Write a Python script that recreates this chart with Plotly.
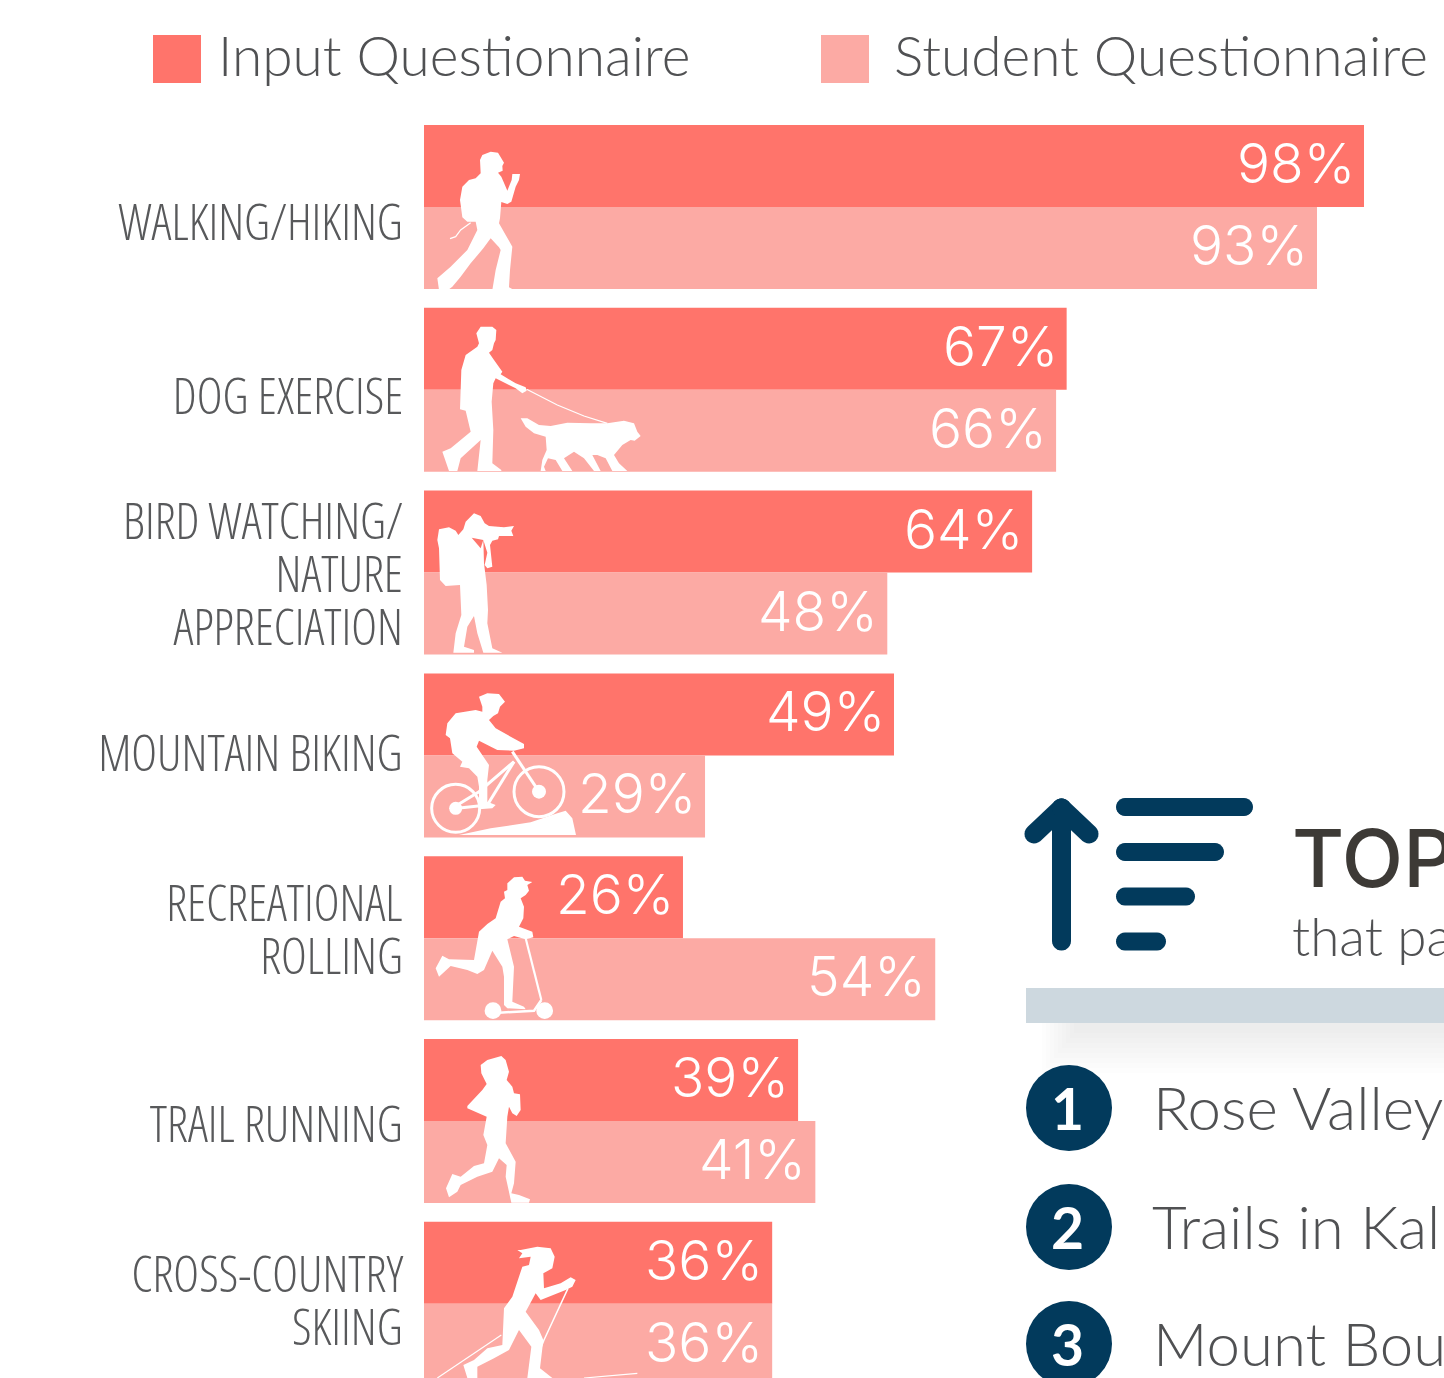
import math
import plotly.graph_objects as go

# ---------- data ----------
categories = ["WALKING/HIKING", "DOG EXERCISE", "BIRD WATCHING/ NATURE APPRECIATION",
              "MOUNTAIN BIKING", "RECREATIONAL ROLLING", "TRAIL RUNNING", "CROSS-COUNTRY SKIING"]
input_values = [98, 67, 63.4, 49, 27, 39, 36.3]
student_values = [93.1, 65.9, 48.3, 29.3, 53.3, 40.8, 36.3]
input_labels = ["98%", "67%", "64%", "49%", "26%", "39%", "36%"]
student_labels = ["93%", "66%", "48%", "29%", "54%", "41%", "36%"]
label_lines = [["WALKING/HIKING"], ["DOG EXERCISE"], ["BIRD WATCHING/", "NATURE", "APPRECIATION"],
               ["MOUNTAIN BIKING"], ["RECREATIONAL", "ROLLING"], ["TRAIL RUNNING"], ["CROSS-COUNTRY", "SKIING"]]
series_names = ["Input Questionnaire", "Student Questionnaire"]
top_list = ["Rose Valley", "Trails in Kal", "Mount Bou"]

# ---------- layout constants ----------
W, H = 1444, 1378
C_IN, C_ST = "#ff746b", "#fcaaa4"
NAVY = "#023a5c"
GREY = "#58595b"
LATO_GREY = "#505153"
LABEL_TOP = [221, 395, 520, 752, 902, 1123, 1273]
LINE_GAP = 53
PX_PER_UNIT = 940 / 98
BAND = 182.8
FIRST = 207


def fx(x):
    return x / W


def fy(y):
    return 1 - y / H


shapes = []
ann = []


def poly(points, fill="white"):
    d = "M" + " L".join(f"{fx(x):.5f} {fy(y):.5f}" for x, y in points) + " Z"
    shapes.append(dict(type="path", xref="paper", yref="paper", path=d, fillcolor=fill,
                       line=dict(width=0), layer="above"))


def icon(points, ox, oy, fill="white", sy=3.0):
    poly([(ox + x / 3, oy + y / sy) for x, y in points], fill)


def capsule(a, b, w, fill=NAVY):
    (x0, y0), (x1, y1) = a, b
    ang = math.atan2(y1 - y0, x1 - x0)
    r = w / 2
    pts = []
    for i in range(13):
        t = ang + math.pi / 2 + math.pi * i / 12
        pts.append((x0 + r * math.cos(t), y0 + r * math.sin(t)))
    for i in range(13):
        t = ang - math.pi / 2 + math.pi * i / 12
        pts.append((x1 + r * math.cos(t), y1 + r * math.sin(t)))
    poly(pts, fill)


def iline(points, ox, oy, w, color="white"):
    d = "M" + " L".join(f"{fx(ox + x / 3):.5f} {fy(oy + y / 3):.5f}" for x, y in points)
    shapes.append(dict(type="path", xref="paper", yref="paper", path=d,
                       line=dict(color=color, width=w), layer="above"))


def circle(cx, cy, r, fill=None, line=None, lw=0):
    shapes.append(dict(type="circle", xref="paper", yref="paper", layer="above",
                       x0=fx(cx - r), x1=fx(cx + r), y0=fy(cy + r), y1=fy(cy - r),
                       fillcolor=fill if fill else "rgba(0,0,0,0)",
                       line=dict(color=line if line else "rgba(0,0,0,0)", width=lw)))


def text(s, x, y, size, family, color=LATO_GREY, weight=None, anchor="left"):
    ann.append(dict(text=s, x=fx(x), y=fy(y), xref="paper", yref="paper", xanchor=anchor,
                    yanchor="middle", showarrow=False, align=anchor,
                    font=dict(size=size, family=family, color=color, weight=weight)))


# ---------- silhouettes ----------
OX1, OY1 = 424, 130
icon([(200,65),(222,68),(232,85),(240,98),(235,108),(236,122),(222,128),(232,140),(245,170),(250,182),(263,150),(265,132),(288,132),(285,150),(275,170),(262,215),(250,222),(232,216),(228,265),(225,280),(245,315),(265,350),(258,420),(255,472),(270,480),(205,480),(215,420),(230,360),(225,352),(200,325),(178,355),(140,400),(110,440),(85,470),(72,480),(45,480),(40,445),(80,410),(130,360),(160,300),(155,275),(130,275),(115,262),(108,210),(115,170),(135,150),(155,145),(170,130),(168,90),(175,75)], OX1, OY1)
iline([(140,278),(110,300),(95,320),(78,326)], OX1, OY1, 1.2)
icon([(170,590),(205,590),(217,600),(215,630),(210,640),(205,660),(195,668),(210,690),(235,725),(230,733),(275,760),(305,772),(308,782),(295,790),(275,775),(215,745),(208,760),(203,815),(208,900),(205,1000),(232,1020),(232,1023),(160,1023),(170,930),(110,985),(100,1023),(75,1023),(55,965),(80,955),(140,905),(125,842),(108,838),(112,720),(125,675),(160,650),(165,640),(157,610)], OX1, OY1)
iline([(308,778),(400,825),(480,858),(550,880)], OX1, OY1, 1.2)
icon([(290,865),(310,865),(345,885),(380,888),(430,878),(500,880),(550,880),(600,872),(630,880),(640,905),(650,918),(632,932),(620,930),(595,945),(570,975),(585,1000),(610,1023),(565,1023),(545,985),(520,975),(505,975),(530,1023),(510,1023),(480,985),(450,965),(420,985),(445,1023),(415,1023),(395,990),(372,985),(360,1010),(365,1023),(350,1023),(355,990),(368,960),(365,920),(330,910),(305,890)], OX1, OY1)

OX2, OY2 = 424, 490
icon([(150,70),(170,78),(182,100),(195,108),(240,112),(270,108),(262,122),(268,138),(225,138),(222,148),(205,152),(198,165),(205,230),(190,235),(182,225),(190,188),(178,150),(180,220),(188,285),(192,360),(190,400),(205,475),(235,488),(178,488),(160,430),(150,378),(130,410),(120,470),(150,480),(150,488),(88,488),(95,430),(112,375),(108,285),(65,288),(48,270),(45,175),(40,150),(45,118),(75,112),(95,122),(103,135),(118,118),(125,95)], OX2, OY2)
icon([(143,143),(178,150),(170,175)], OX2, OY2, C_IN)
icon([(165,620),(190,610),(225,612),(243,635),(228,650),(222,670),(208,678),(195,690),(215,715),(260,740),(300,762),(300,775),(270,782),(220,780),(165,752),(158,770),(195,825),(190,870),(190,935),(215,945),(205,955),(165,958),(165,890),(160,860),(135,835),(108,830),(115,815),(85,790),(78,745),(65,735),(70,700),(95,670),(155,660),(175,665),(175,650)], OX2, OY2)
iline([(100,945),(165,905),(270,815)], OX2, OY2, 3)
iline([(270,815),(190,945)], OX2, OY2, 3)
iline([(100,955),(190,945)], OX2, OY2, 3)
iline([(265,785),(345,905)], OX2, OY2, 3)
circle(424 + 95 / 3, 490 + 955 / 3, 24, line="white", lw=3)
circle(424 + 345 / 3, 490 + 905 / 3, 25, line="white", lw=3)
circle(424 + 95 / 3, 490 + 955 / 3, 6.5, fill="white")
circle(424 + 345 / 3, 490 + 905 / 3, 7, fill="white")
icon([(105,1035),(200,1015),(320,997),(400,970),(425,962),(445,985),(456,1035)], OX2, OY2)

OX3, OY3 = 424, 860
icon([(250,70),(270,52),(295,50),(303,62),(325,66),(310,75),(315,92),(305,105),(290,115),(300,140),(298,175),(285,200),(325,215),(328,232),(305,238),(270,228),(250,238),(270,320),(265,425),(300,440),(305,448),(250,445),(240,435),(240,350),(235,320),(205,272),(180,330),(160,342),(130,330),(80,318),(45,350),(35,325),(55,287),(75,298),(150,300),(165,215),(190,192),(215,175),(230,125),(243,115),(240,95),(250,90)], OX3, OY3)
iline([(305,235),(352,420)], OX3, OY3, 2.2)
iline([(352,420),(330,452),(225,458)], OX3, OY3, 2.5)
circle(424 + 207 / 3, 860 + 452 / 3, 8.4, fill="white")
circle(424 + 362 / 3, 860 + 452 / 3, 8.4, fill="white")
icon([(170,615),(190,600),(232,588),(245,600),(255,635),(248,660),(265,680),(270,700),(288,703),(290,750),(278,768),(265,760),(255,740),(250,770),(245,850),(275,905),(270,970),(262,1000),(285,1005),(318,1018),(315,1028),(262,1028),(245,950),(248,915),(225,895),(205,935),(160,950),(110,975),(100,995),(75,1012),(66,985),(85,942),(110,950),(150,918),(180,910),(190,855),(178,825),(188,770),(130,745),(130,738),(175,690),(188,672),(172,640)], OX3, OY3)
icon([(290,1170),(340,1160),(380,1165),(392,1190),(385,1225),(358,1240),(360,1285),(410,1270),(440,1252),(455,1260),(445,1280),(425,1290),(350,1320),(335,1300),(305,1355),(345,1410),(358,1440),(348,1525),(385,1554),(310,1554),(322,1460),(285,1410),(255,1470),(210,1495),(160,1520),(160,1554),(130,1554),(118,1515),(150,1500),(190,1465),(235,1455),(240,1345),(265,1310),(295,1220),(315,1215),(320,1190),(285,1195),(295,1180),(280,1170)], OX3, OY3)
iline([(432,1285),(360,1440),(315,1554)], OX3, OY3, 1.5)
iline([(232,1425),(40,1554)], OX3, OY3, 1.2)
iline([(480,1554),(640,1540)], OX3, OY3, 1.2)

# ---------- legend ----------
for x0, color in ((153, C_IN), (821, C_ST)):
    shapes.append(dict(type="rect", xref="paper", yref="paper", x0=fx(x0), x1=fx(x0 + 48),
                       y0=fy(83), y1=fy(35), fillcolor=color, line=dict(width=0)))
text(series_names[0], 216, 55, 55, "Lato", weight=300)
text(series_names[1], 892, 55, 55, "Lato", weight=300)

# ---------- category labels ----------
for lines, top in zip(label_lines, LABEL_TOP):
    for i, line in enumerate(lines):
        text(line, 405, top + i * LINE_GAP, 49, "Open Sans", color=GREY, weight=300, anchor="right")

# ---------- value labels, placed by the axes from the values ----------
for vals, labels, shift in ((input_values, input_labels, 44), (student_values, student_labels, -38)):
    for cat, v, lab in zip(categories, vals, labels):
        ann.append(dict(text=lab, x=v, y=cat, xref="x", yref="y", xanchor="right", yanchor="middle",
                        xshift=-7, yshift=shift, showarrow=False,
                        font=dict(family="Inter", size=55, color="white", weight=350)))

# ---------- right panel ----------
capsule((1061.5, 808), (1061.5, 941), 19)
capsule((1061.5, 808), (1034, 834), 19)
capsule((1061.5, 808), (1089, 834), 19)
for x1, yc in ((1244, 807), (1215, 852), (1186, 896.5), (1157, 941.5)):
    capsule((1125, yc), (x1, yc), 18)
text("TOP", 1290, 857, 80, "Inter", color="#3d3a36", weight=500)
text("that pa", 1290, 935, 53, "Lato", weight=300)
for i in range(9):
    shapes.append(dict(type="rect", xref="paper", yref="paper", x0=fx(1042 + i * 4), x1=1,
                       y0=fy(1023 + 50 - i * 5), y1=fy(1023), fillcolor="rgba(0,0,0,0.009)",
                       line=dict(width=0)))
shapes.append(dict(type="rect", xref="paper", yref="paper", x0=fx(1026), x1=1, y0=fy(1023), y1=fy(988),
                   fillcolor="#cdd8df", line=dict(width=0)))
for i, (name, cy) in enumerate(zip(top_list, (1108, 1227, 1344))):
    circle(1069, cy, 43, fill=NAVY)
    text(str(i + 1), 1067, cy, 57, "Lato", color="white", weight=700, anchor="center")
    text(name, 1151 if i != 1 else 1150, cy - 1, 60, "Lato", weight=300)

# ---------- figure ----------
fig = go.Figure()
for name, vals, color in ((series_names[0], input_values, C_IN), (series_names[1], student_values, C_ST)):
    fig.add_trace(go.Bar(y=categories, x=vals, name=name, orientation="h",
                         marker=dict(color=color, line=dict(width=0))))

fig.update_layout(
    width=W, height=H, margin=dict(l=0, r=0, t=0, b=0, pad=0), autosize=False,
    barmode="group", bargap=1 - 164 / BAND, bargroupgap=0, showlegend=False,
    paper_bgcolor="white", plot_bgcolor="white",
    xaxis=dict(domain=[424 / W, 1], range=[0, (W - 424) / PX_PER_UNIT], visible=False),
    yaxis=dict(domain=[0, 1], type="category", categoryorder="array", categoryarray=categories,
               range=[(H - FIRST) / BAND, -FIRST / BAND], visible=False),
    shapes=shapes, annotations=ann,
)
POST = """
document.documentElement.style.margin='0';
document.body.style.margin='0';
document.querySelectorAll('.annotation-text').forEach(function(t){
  if((t.style.fontFamily||'').indexOf('Open Sans')>=0){ t.style.fontStretch='84%'; }
});
"""
fig.write_html("out.html", post_script=POST, config={"displayModeBar": False})
